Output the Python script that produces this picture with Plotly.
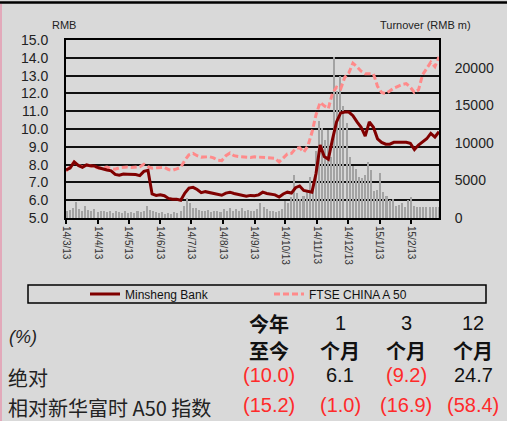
import plotly.graph_objects as go
import pandas as pd

# ---------------- data ----------------
line_dates = pd.date_range("2014-03-13", periods=92, freq="4D")
minsheng = [7.70, 7.80, 8.15, 7.95, 7.85, 7.98, 7.93, 7.92, 7.82, 7.78,
            7.70, 7.65, 7.45, 7.40, 7.47, 7.46, 7.46, 7.44, 7.38, 7.62,
            7.68, 6.35, 6.27, 6.30, 6.25, 6.10, 6.05, 6.05, 6.00, 6.40,
            6.68, 6.72, 6.60, 6.42, 6.48, 6.42, 6.38, 6.32, 6.28, 6.40,
            6.45, 6.38, 6.33, 6.30, 6.22, 6.27, 6.25, 6.30, 6.45, 6.38,
            6.33, 6.30, 6.18, 6.35, 6.45, 6.40, 6.70, 6.80, 6.55, 6.48,
            6.45, 7.50, 9.10, 8.45, 8.30, 9.40, 10.40, 10.90, 10.95, 10.95,
            10.75, 10.40, 10.10, 9.60, 10.40, 10.10, 9.45, 9.25, 9.15, 9.15,
            9.25, 9.25, 9.25, 9.25, 9.20, 8.85, 9.10, 9.25, 9.45, 9.75,
            9.55, 9.85]
ftse_a50 = [7.62, 7.90, 8.15, 7.95, 7.88, 7.98, 7.92, 7.85, 7.80, 7.82,
            7.86, 7.78, 7.74, 7.82, 7.86, 7.86, 7.84, 7.85, 7.88, 8.02,
            7.88, 7.80, 7.82, 7.86, 7.85, 7.72, 7.68, 7.76, 7.85, 8.25,
            8.55, 8.63, 8.50, 8.42, 8.44, 8.44, 8.38, 8.25, 8.22, 8.50,
            8.65, 8.50, 8.45, 8.42, 8.42, 8.40, 8.44, 8.42, 8.40, 8.40,
            8.40, 8.35, 8.15, 8.40, 8.60, 8.63, 8.90, 8.95, 8.70, 9.05,
            9.80, 10.80, 11.50, 11.30, 11.15, 12.00, 12.35, 12.25, 12.90, 13.15,
            13.70, 13.50, 13.25, 13.10, 13.10, 13.10, 12.40, 12.05, 11.98, 12.15,
            12.30, 12.40, 12.50, 12.55, 12.35, 12.05, 12.20, 13.05, 13.40, 13.75,
            13.50, 14.05]

bar_dates = pd.date_range("2014-03-14", periods=122, freq="3D")
turnover = [900, 1100, 1300, 2200, 1200, 1000, 1600, 1100, 900, 1200,
            800, 1000, 900, 800, 1000, 700, 900, 800, 700, 900,
            700, 800, 700, 900, 800, 1000, 1600, 1100, 900, 800,
            700, 800, 600, 700, 600, 800, 700, 900, 1600, 2700,
            2000, 1400, 1300, 1100, 1000, 900, 1100, 800, 900, 1000,
            800, 1200, 1000, 1300, 900, 1200, 1000, 1300, 900, 1100,
            1000, 900, 1200, 2000, 1500, 1200, 900, 1000, 800, 900,
            1200, 2300, 2000, 2800, 5700, 3300, 2500, 3000, 3500, 5500,
            3700, 9000, 13000, 12000, 10400, 11700, 8200, 21500, 17000, 19000,
            15000, 12700, 8200, 7000, 6500, 5500, 5300, 5800, 7500, 6400,
            3600, 3700, 6000, 3500, 3000, 2400, 2600, 1600, 1800, 2000,
            1500, 2400, 2800, 1600, 1500, 1500, 1500, 1500, 1500, 1500,
            1500, 1500]

tick_dates = ["2014-03-13", "2014-04-13", "2014-05-13", "2014-06-13",
              "2014-07-13", "2014-08-13", "2014-09-13", "2014-10-13",
              "2014-11-13", "2014-12-13", "2015-01-13", "2015-02-13"]
tick_labels = ["14/3/13", "14/4/13", "14/5/13", "14/6/13", "14/7/13",
               "14/8/13", "14/9/13", "14/10/13", "14/11/13", "14/12/13",
               "15/1/13", "15/2/13"]

price_ticks = [5, 6, 7, 8, 9, 10, 11, 12, 13, 14, 15]
turnover_ticks = [0, 5000, 10000, 15000, 20000]

header_top = ["今年", "1", "3", "12"]
header_bottom = ["至今", "个月", "个月", "个月"]
row_labels = ["绝对", "相对新华富时 A50 指数"]
abs_vals = ["(10.0)", "6.1", "(9.2)", "24.7"]
rel_vals = ["(15.2)", "(1.0)", "(16.9)", "(58.4)"]

# ---------------- layout helpers ----------------
W, H = 507, 421
PL, PR, PT, PB = 66, 439, 40, 218
BG = "#D9D9D9"


def px_x(px):
    return (px - PL) / (PR - PL)


def px_y(py):
    return (PB - py) / (PB - PT)


fig = go.Figure()

fig.add_trace(go.Bar(x=bar_dates, y=turnover, yaxis="y",
                     marker=dict(color="#A3A3A3", line=dict(width=0)),
                     width=1.5 * 86400000, showlegend=False))
fig.add_trace(go.Scatter(x=line_dates, y=ftse_a50, yaxis="y2", mode="lines",
                         name="FTSE CHINA A 50", legend="legend2",
                         line=dict(color="#FF8A8A", width=3, dash="6px,3px")))
fig.add_trace(go.Scatter(x=line_dates, y=minsheng, yaxis="y2", mode="lines",
                         name="Minsheng Bank", legend="legend",
                         line=dict(color="#800000", width=3)))

ax_font = dict(family="Liberation Sans, Arial, sans-serif", size=14, color="#222222")
narrow = "Liberation Sans Narrow, Arial Narrow, Liberation Sans, sans-serif"
cjk = "Noto Sans CJK SC, sans-serif"

fig.update_layout(
    width=W, height=H, autosize=False,
    margin=dict(l=PL, r=W - PR, t=PT, b=H - PB, pad=0),
    paper_bgcolor=BG, plot_bgcolor=BG,
    bargap=0,
    xaxis=dict(type="date", range=["2014-03-13", "2015-03-12"],
               tickvals=tick_dates, ticktext=tick_labels, tickangle=90,
               ticks="outside", ticklen=4, tickwidth=1.5, tickcolor="#000",
               showline=True, linecolor="#000", linewidth=2, mirror=True,
               showgrid=False, zeroline=False,
               tickfont=dict(family="Liberation Sans, Arial, sans-serif", size=10, color="#333")),
    yaxis=dict(side="right", range=[0, 23733], tickvals=turnover_ticks,
               tickformat="d",
               showgrid=False, zeroline=False, showline=True, linecolor="#000",
               linewidth=2, ticks="", ticklabelstandoff=11, tickfont=ax_font),
    yaxis2=dict(side="left", overlaying="y", range=[5, 15], tickvals=price_ticks,
                tickformat=".1f", showgrid=True, gridcolor="#111", gridwidth=1.5,
                zeroline=False, showline=True, linecolor="#000", linewidth=2,
                ticks="", ticklabelstandoff=13, tickfont=ax_font),
    legend=dict(x=px_x(85), y=px_y(294), xanchor="left", yanchor="middle",
                orientation="h", bgcolor="rgba(0,0,0,0)", borderwidth=0,
                font=dict(family="Liberation Sans, Arial, sans-serif", size=12, color="#111")),
    legend2=dict(x=px_x(269), y=px_y(294), xanchor="left", yanchor="middle",
                 orientation="h", bgcolor="rgba(0,0,0,0)", borderwidth=0,
                 font=dict(family="Liberation Sans, Arial, sans-serif", size=12, color="#111")),
)

shapes = [
    dict(type="line", xref="paper", yref="paper", x0=px_x(0), x1=px_x(W),
         y0=px_y(2.5), y1=px_y(2.5), line=dict(color="#000", width=2.5)),
    dict(type="line", xref="paper", yref="paper", x0=px_x(1), x1=px_x(1),
         y0=px_y(4), y1=px_y(H), line=dict(color="#E2A9BA", width=2)),
    dict(type="rect", xref="paper", yref="paper", x0=px_x(28), x1=px_x(486),
         y0=px_y(303), y1=px_y(285), line=dict(color="#000", width=1.5)),
]
fig.update_layout(shapes=shapes)

ann = []


def add_text(text, px, py, font, xanchor="center"):
    ann.append(dict(text=text, x=px_x(px), y=px_y(py), xref="paper", yref="paper",
                    xanchor=xanchor, yanchor="middle", showarrow=False, font=font))


add_text("RMB", 64, 25, dict(family="Liberation Sans, Arial", size=11, color="#222"))
add_text("Turnover (RMB m)", 425, 25, dict(family="Liberation Sans, Arial", size=11, color="#222"))

col_x = [269, 340, 406, 473]
for i, cx in enumerate(col_x):
    t = header_top[i]
    is_cjk = not t.isdigit()
    add_text("<b>%s</b>" % t if is_cjk else t, cx, 323,
             dict(family=cjk if is_cjk else narrow, size=20, color="#111"))
    add_text("<b>%s</b>" % header_bottom[i], cx, 350,
             dict(family=cjk, size=20, color="#111"))
    for vals, py in ((abs_vals, 375), (rel_vals, 405)):
        v = vals[i]
        add_text(v, cx, py, dict(family=narrow, size=20,
                                 color="#FF2A2A" if v.startswith("(") else "#111"))

add_text("<i>(%)</i>", 7, 337, dict(family="Liberation Sans, Arial", size=18, color="#222"),
         xanchor="left")
add_text(row_labels[0], 6, 377, dict(family=cjk, size=20, color="#222"), xanchor="left")
add_text(row_labels[1], 6, 408, dict(family=cjk, size=20, color="#222"), xanchor="left")

fig.update_layout(annotations=ann)

fig.write_html("out.html", config={"displayModeBar": False})
